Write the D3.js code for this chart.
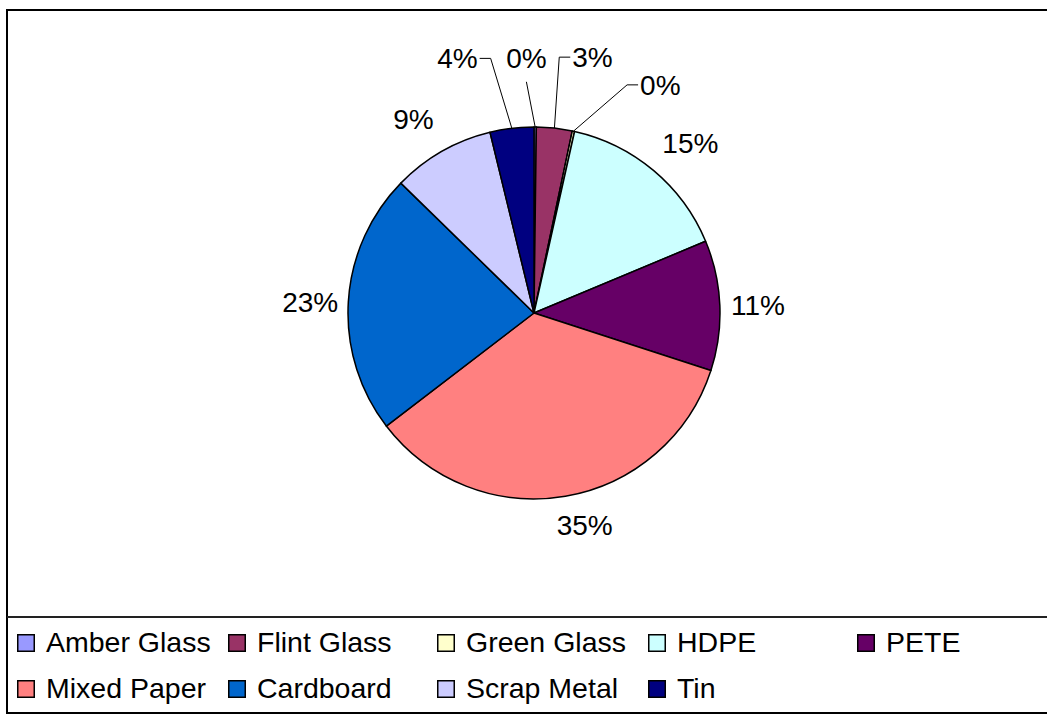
<!DOCTYPE html>
<html>
<head>
<meta charset="utf-8">
<script src="https://cdn.jsdelivr.net/npm/d3@7"></script>
<style>
  html, body { margin: 0; padding: 0; background: #fff; }
  svg { display: block; }
  text { font-family: "Liberation Sans", Arial, sans-serif; fill: #000; }
</style>
</head>
<body>
<svg id="chart" width="1047" height="715"></svg>
<script>
// ---- data ----
const categories = ["Amber Glass", "Flint Glass", "Green Glass", "HDPE", "PETE",
                    "Mixed Paper", "Cardboard", "Scrap Metal", "Tin"];
const values = [0.2, 3.1, 0.2, 15.2, 11.3, 34.6, 22.7, 8.9, 3.8];
const labels = ["0%", "3%", "0%", "15%", "11%", "35%", "23%", "9%", "4%"];
const colors = ["#9999FF", "#993366", "#FFFFCC", "#CCFFFF", "#660066",
                "#FF8080", "#0066CC", "#CCCCFF", "#000080"];

// ---- layout (label adjustments relative to arc centroid) ----
const labelNudge = [[-9, -32], [34, -34], [79, -10], [13, 1], [1, 1],
                    [13, -8], [-1, 2], [-10, 0], [-50, -33]];
const hasLeader = [true, true, true, false, false, false, false, false, true];
const legendCols = [17, 228, 437, 648, 857];
const legendRows = [634, 680];

const W = 1047, H = 715;
const cx = 534, cy = 313, r = 186;

const svg = d3.select("#chart");

// frame
svg.append("rect").attr("x", 7).attr("y", 10).attr("width", W + 10).attr("height", 703)
  .attr("fill", "#fff").attr("stroke", "#000").attr("stroke-width", 2);
svg.append("line").attr("x1", 7).attr("x2", W).attr("y1", 617).attr("y2", 617)
  .attr("stroke", "#222").attr("stroke-width", 2);

const pie = d3.pie().value(d => d).sort(null);
const arcs = pie(values);
const arc = d3.arc().innerRadius(0).outerRadius(r);
const labelArc = d3.arc().innerRadius(r * 1.2).outerRadius(r * 1.2);
const edgeArc = d3.arc().innerRadius(r).outerRadius(r);

const g = svg.append("g").attr("transform", `translate(${cx},${cy})`);
g.selectAll("path.slice").data(arcs).join("path")
  .attr("class", "slice")
  .attr("d", arc)
  .attr("fill", (d, i) => colors[i])
  .attr("stroke", "#000").attr("stroke-width", 1.5).attr("stroke-linejoin", "round");

// labels
const fs = 28;
arcs.forEach((d, i) => {
  const c = labelArc.centroid(d);
  const lx = c[0] + labelNudge[i][0];
  const ly = c[1] + labelNudge[i][1];
  const t = g.append("text")
    .attr("x", lx).attr("y", ly + 10)
    .attr("text-anchor", "middle")
    .attr("font-size", fs)
    .text(labels[i]);
  if (hasLeader[i]) {
    const w = t.node().getComputedTextLength();
    const p = edgeArc.centroid(d);
    let pts;
    if (Math.abs(p[0] - lx) < w / 2) {
      pts = [[lx, ly + 24], p];
    } else if (p[0] < lx) {
      const x0 = lx - w / 2 - 2;
      pts = [[x0, ly], [x0 - 11, ly], p];
    } else {
      const x0 = lx + w / 2 + 2;
      pts = [[x0, ly], [x0 + 11, ly], p];
    }
    g.append("path").attr("d", d3.line()(pts))
      .attr("fill", "none").attr("stroke", "#000").attr("stroke-width", 1);
  }
});

// legend
const legend = svg.append("g");
categories.forEach((name, i) => {
  const col = i < 5 ? i : i - 5;
  const row = i < 5 ? 0 : 1;
  const x = legendCols[col], y = legendRows[row];
  legend.append("rect").attr("x", x + 0.75).attr("y", y + 0.75)
    .attr("width", 16.5).attr("height", 16.5)
    .attr("fill", colors[i]).attr("stroke", "#000").attr("stroke-width", 1.5);
  legend.append("text").attr("x", x + 29).attr("y", y + 18)
    .attr("font-size", 28.5).text(name);
});
</script>
</body>
</html>
